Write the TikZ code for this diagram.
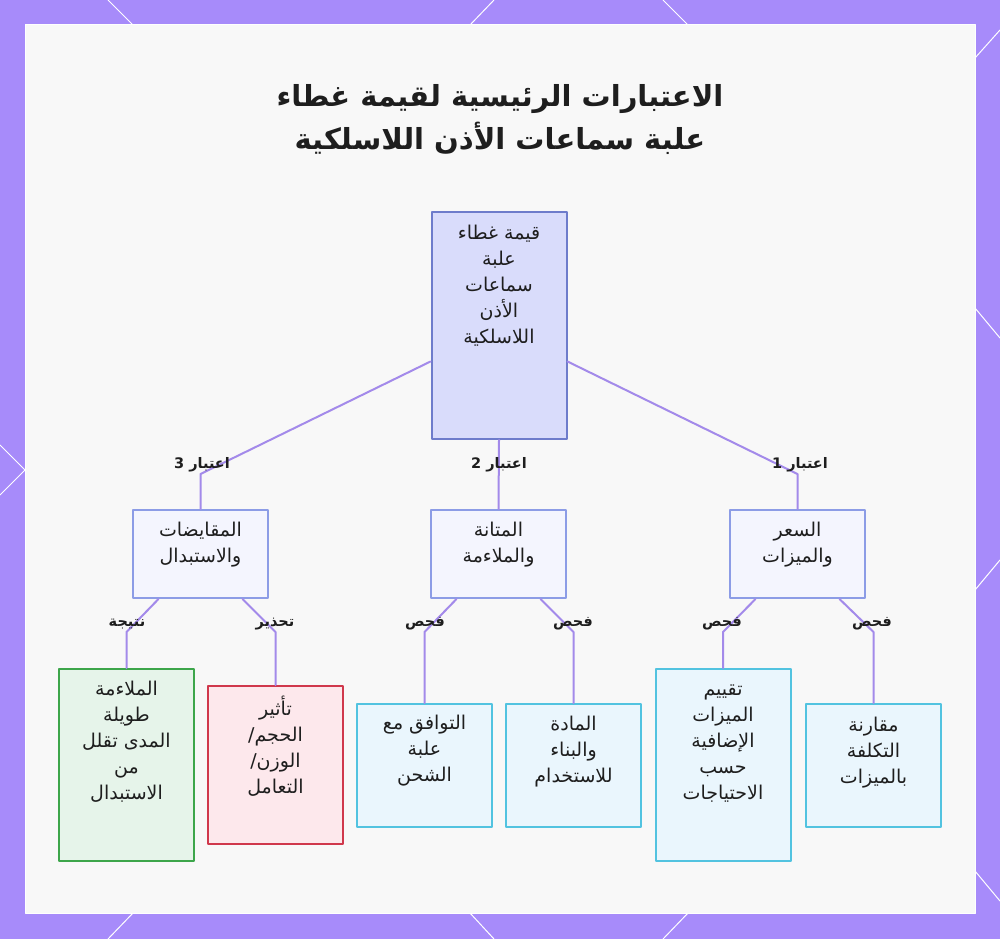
\documentclass[tikz,border=0pt]{standalone}
\usepackage{fontspec}
\newfontfamily\arabicfont[Script=Arabic]{DejaVu Sans}
\TeXXeTstate=1
\newcommand{\artxt}[1]{\beginR#1\endR}
\definecolor{bgpurple}{HTML}{A78BFA}
\definecolor{panelgray}{HTML}{F8F8F8}
\definecolor{edgepurple}{HTML}{A38AEA}
\definecolor{inkdark}{HTML}{1E1E1E}
\definecolor{rootfill}{HTML}{D9DCFB}
\definecolor{rootline}{HTML}{6E7CCB}
\definecolor{midfill}{HTML}{F4F5FE}
\definecolor{midline}{HTML}{8C9CE6}
\definecolor{greenfill}{HTML}{E6F4EA}
\definecolor{greenline}{HTML}{3DA64B}
\definecolor{redfill}{HTML}{FDE8EC}
\definecolor{redline}{HTML}{D0384C}
\definecolor{bluefill}{HTML}{EAF6FD}
\definecolor{blueline}{HTML}{52C3E0}
\begin{document}
\begin{tikzpicture}[x=1pt, y=-1pt, line join=round, line cap=round]
	\tikzset{
		box/.style={draw, line width=2pt, minimum width=135pt, inner sep=0pt, anchor=north},
		rootbox/.style={box, draw=rootline, fill=rootfill, minimum height=227pt},
		midbox/.style={box, draw=midline, fill=midfill, minimum height=88pt},
		goodbox/.style={box, draw=greenline, fill=greenfill},
		warnbox/.style={box, draw=redline, fill=redfill},
		checkbox/.style={box, draw=blueline, fill=bluefill},
		boxtext/.style={anchor=north, align=center, inner sep=0pt, text=inkdark, font=\arabicfont\fontsize{19}{26}\selectfont},
		elabel/.style={inner sep=0pt, text=inkdark, font=\arabicfont\bfseries\fontsize{14.5}{16}\selectfont},
		edge/.style={draw=edgepurple, line width=2pt}
	}
	\useasboundingbox (0,0) rectangle (1000,939);
	\fill[bgpurple] (0,0) rectangle (1000,939);
	\foreach \xa/\ya/\xb/\yb in {108/0/133/25, 494/0/470/25, 663/0/688/25, 108/939/133/913, 494/939/470/913, 663/939/688/913, 1000/30/975/58, 975/308/1000/338, 975/590/1000/560, 975/871/1000/901, 0/445/25/470, 25/470/0/495}
		\draw[white, line width=1pt] (\xa,\ya) -- (\xb,\yb);
	\fill[panelgray, draw=white, line width=1pt] (25,25) rectangle (975,913);
	
	\node[anchor=north, align=center, inner sep=0pt, text=inkdark, font=\arabicfont\bfseries\fontsize{29}{43}\selectfont] (title) at (500,84)
		{\artxt{الاعتبارات الرئيسية لقيمة غطاء}\\\artxt{علبة سماعات الأذن اللاسلكية}};
	
	\node[rootbox] (root) at (499,211) {};
	\node[midbox] (n3) at (200.5,509) {};
	\node[midbox] (n2) at (498.5,509) {};
	\node[midbox] (n1) at (797.5,509) {};
	\node[goodbox, minimum height=192pt] (c31) at (126.5,668) {};
	\node[warnbox, minimum height=158pt] (c32) at (275.5,685) {};
	\node[checkbox, minimum height=123pt] (c21) at (424.5,703) {};
	\node[checkbox, minimum height=123pt] (c22) at (573.5,703) {};
	\node[checkbox, minimum height=192pt] (c11) at (723,668) {};
	\node[checkbox, minimum height=123pt] (c12) at (873.5,703) {};
	
	\node[boxtext] at ([yshift=-14pt]root.north) {\artxt{قيمة غطاء}\\\artxt{علبة}\\\artxt{سماعات}\\\artxt{الأذن}\\\artxt{اللاسلكية}};
	\node[boxtext] at ([yshift=-13pt]n3.north) {\artxt{المقايضات}\\\artxt{والاستبدال}};
	\node[boxtext] at ([yshift=-13pt]n2.north) {\artxt{المتانة}\\\artxt{والملاءمة}};
	\node[boxtext] at ([yshift=-13pt]n1.north) {\artxt{السعر}\\\artxt{والميزات}};
	\node[boxtext] at ([yshift=-13pt]c31.north) {\artxt{الملاءمة}\\\artxt{طويلة}\\\artxt{المدى تقلل}\\\artxt{من}\\\artxt{الاستبدال}};
	\node[boxtext] at ([yshift=-11pt]c32.north) {\artxt{تأثير}\\\artxt{الحجم/}\\\artxt{الوزن/}\\\artxt{التعامل}};
	\node[boxtext] at ([yshift=-12pt]c21.north) {\artxt{التوافق مع}\\\artxt{علبة}\\\artxt{الشحن}};
	\node[boxtext] at ([yshift=-13pt]c22.north) {\artxt{المادة}\\\artxt{والبناء}\\\artxt{للاستخدام}};
	\node[boxtext] at ([yshift=-17pt]c11.north) {\artxt{تقييم}\\\artxt{الميزات}\\\artxt{الإضافية}\\\artxt{حسب}\\\artxt{الاحتياجات}};
	\node[boxtext] at ([yshift=-14pt]c12.north) {\artxt{مقارنة}\\\artxt{التكلفة}\\\artxt{بالميزات}};
	
	\coordinate (k3) at (200.5,474);
	\coordinate (k1) at (797.5,474);
	\coordinate (k31) at (126.5,632);
	\coordinate (k32) at (275.5,632);
	\coordinate (k21) at (424.5,632);
	\coordinate (k22) at (573.5,632);
	\coordinate (k11) at (723,632);
	\coordinate (k12) at (873.5,632);
	\draw[edge] ([yshift=-36pt]root.west) -- (k3) -- (n3.north);
	\draw[edge] (root.south) -- (n2.north);
	\draw[edge] ([yshift=-36pt]root.east) -- (k1) -- (n1.north);
	\draw[edge] ([xshift=-42pt]n3.south) -- (k31) -- (c31.north);
	\draw[edge] ([xshift=42pt]n3.south) -- (k32) -- (c32.north);
	\draw[edge] ([xshift=-42pt]n2.south) -- (k21) -- (c21.north);
	\draw[edge] ([xshift=42pt]n2.south) -- (k22) -- (c22.north);
	\draw[edge] ([xshift=-42pt]n1.south) -- (k11) -- (c11.north);
	\draw[edge] ([xshift=42pt]n1.south) -- (k12) -- (c12.north);
	
	\node[elabel] (l3) at (202,465) {\artxt{اعتبار 3}};
	\node[elabel] (l2) at (499,465) {\artxt{اعتبار 2}};
	\node[elabel] (l1) at (800,465) {\artxt{اعتبار 1}};
	\node[elabel] (l31) at (127,624) {\artxt{نتيجة}};
	\node[elabel] (l32) at (275,624) {\artxt{تحذير}};
	\node[elabel] (l21) at (425,624) {\artxt{فحص}};
	\node[elabel] (l22) at (573,624) {\artxt{فحص}};
	\node[elabel] (l11) at (722,624) {\artxt{فحص}};
	\node[elabel] (l12) at (872,624) {\artxt{فحص}};
\end{tikzpicture}
\end{document}
